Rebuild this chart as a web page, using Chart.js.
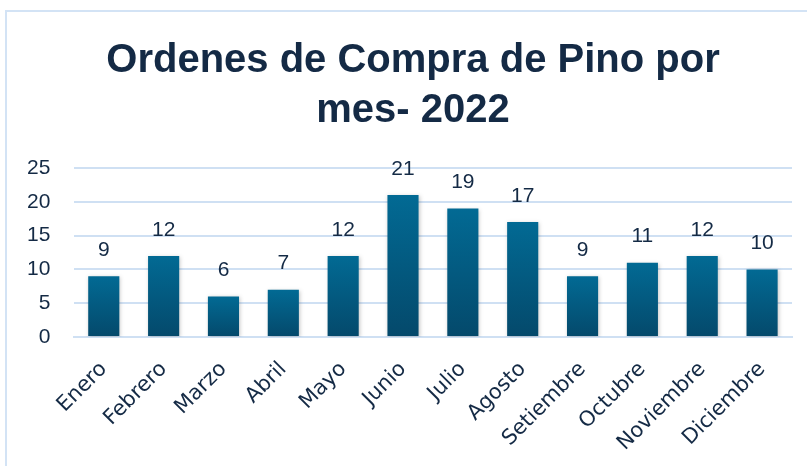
<!DOCTYPE html>
<html>
<head>
<meta charset="utf-8">
<script src="https://cdn.jsdelivr.net/npm/chart.js@4"></script>
<style>
  html, body { margin: 0; padding: 0; background: #fff; }
  #frame {
    position: absolute; left: 5px; top: 10px; width: 802px; height: 456px;
    border-left: 2px solid #d3e3f5; border-top: 2px solid #d3e3f5;
  }
  #wrap { position: absolute; left: 0; top: 0; width: 807px; height: 466px; }
</style>
</head>
<body>
<div id="frame"></div>
<div id="wrap"><canvas id="chart"></canvas></div>
<script>
// datos
const titulo = ["Ordenes de Compra de Pino por", "mes- 2022"];
const meses = ["Enero", "Febrero", "Marzo", "Abril", "Mayo", "Junio", "Julio", "Agosto",
  "Setiembre", "Octubre", "Noviembre", "Diciembre"];
const ordenes = [9, 12, 6, 7, 12, 21, 19, 17, 9, 11, 12, 10];
const yTicks = [0, 5, 10, 15, 20, 25];

const textColor = "#142a45";
const numFont = "'Liberation Sans', Arial, sans-serif";

// título en dos líneas (centrado como en Excel)
const chartTitle = {
  id: "chartTitle",
  afterDraw(chart) {
    const ctx = chart.ctx;
    ctx.save();
    ctx.font = "bold 40px " + numFont;
    ctx.fillStyle = textColor;
    ctx.textAlign = "center";
    ctx.textBaseline = "alphabetic";
    titulo.forEach((t, i) => ctx.fillText(t, 413, 72 + i * 50));
    ctx.restore();
  }
};

// sombra de barras + etiquetas encima de cada barra
const barLabels = {
  id: "barLabels",
  beforeDatasetsDraw(chart) {
    const ctx = chart.ctx;
    ctx.save();
    ctx.shadowColor = "rgba(0,0,0,0.22)";
    ctx.shadowBlur = 4;
    ctx.shadowOffsetX = 1;
    ctx.shadowOffsetY = 1;
  },
  afterDatasetsDraw(chart) {
    const ctx = chart.ctx;
    ctx.restore();
    const meta = chart.getDatasetMeta(0);
    ctx.save();
    ctx.font = "21px " + numFont;
    ctx.fillStyle = textColor;
    ctx.textAlign = "center";
    ctx.textBaseline = "middle";
    meta.data.forEach((bar, i) => {
      ctx.fillText(ordenes[i], bar.x, bar.y - 26);
    });
    ctx.restore();
  }
};

// degradado por barra
function barGradient(context) {
  const chart = context.chart;
  const y = chart.scales && chart.scales.y;
  if (!chart.chartArea || !y || context.parsed === undefined) return "#035a80";
  const top = y.getPixelForValue(context.parsed.y);
  const bottom = y.getPixelForValue(0);
  const g = chart.ctx.createLinearGradient(0, top, 0, bottom);
  g.addColorStop(0, "#026a94");
  g.addColorStop(1, "#04496b");
  return g;
}

new Chart(document.getElementById("chart"), {
  type: "bar",
  data: {
    labels: meses,
    datasets: [{
      data: ordenes,
      backgroundColor: barGradient,
      categoryPercentage: 1,
      barPercentage: 0.52
    }]
  },
  options: {
    responsive: true,
    maintainAspectRatio: false,
    animation: false,
    layout: { padding: { left: 3.5, right: 15, top: 168, bottom: 0 } },
    plugins: {
      legend: { display: false },
      tooltip: { enabled: false },
      title: { display: false }
    },
    scales: {
      x: {
        grid: { display: false },
        border: { color: "#cfe0f3", width: 2 },
        afterFit(axis) { axis.height = 129; },
        ticks: {
          color: textColor,
          font: { family: "'DejaVu Sans', sans-serif", size: 21 },
          maxRotation: 45, minRotation: 45,
          padding: 12
        }
      },
      y: {
        min: 0, max: 25,
        afterBuildTicks(axis) { axis.ticks = yTicks.map(v => ({ value: v })); },
        grid: { color: "#cfe0f3", lineWidth: 2, drawTicks: false },
        border: { display: false },
        ticks: {
          color: textColor,
          font: { family: numFont, size: 21 },
          padding: 23.5
        }
      }
    }
  },
  plugins: [barLabels, chartTitle]
});
</script>
</body>
</html>
